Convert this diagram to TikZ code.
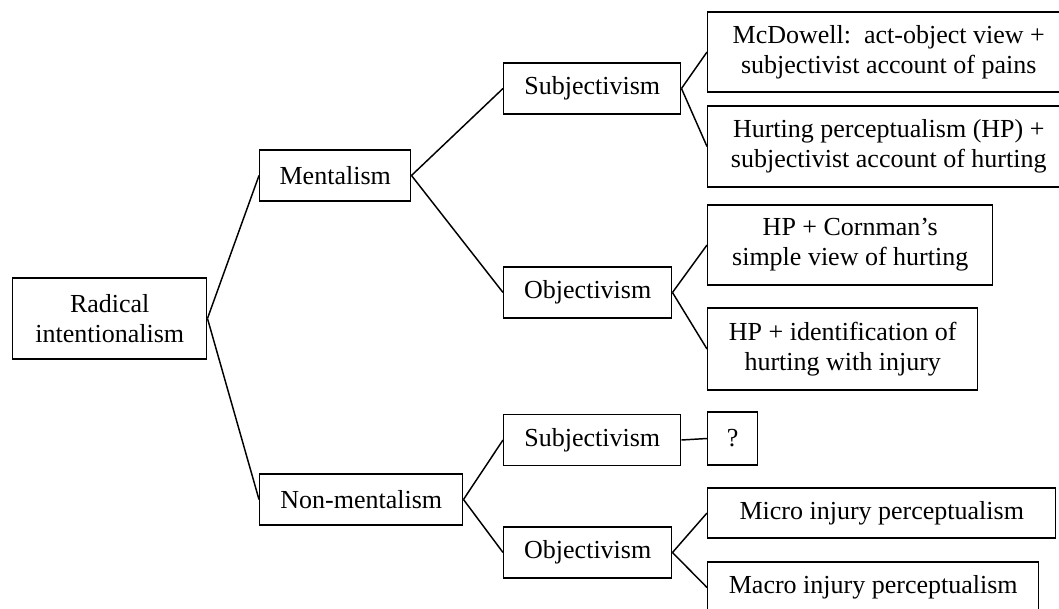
\documentclass[tikz,border=0pt]{standalone}
\usepackage{fontspec}
\setmainfont{Liberation Serif}

\tikzset{every picture/.style={line width=1.1pt}}
\tikzset{box/.style={draw, align=center, inner sep=0pt, font=\fontsize{19.5}{22.5}\selectfont}}

\begin{document}
\begin{tikzpicture}[x=0.75pt,y=0.75pt,yscale=-1,xscale=1]
\clip (0,0) rectangle (1059,609);

% Root
\node [box, minimum width=145.5pt, minimum height=60.75pt, anchor=west] (rad) at (12,318.5) {Radical\\intentionalism};

% Level 1
\node [box, minimum width=113.25pt, minimum height=38.25pt, anchor=west] (ment) at (259,175.5) {Mentalism};
\node [box, minimum width=152.25pt, minimum height=38.25pt, anchor=west] (nonment) at (259,499.5) {Non-mentalism};

% Level 2
\node [box, minimum width=132.75pt, minimum height=38.25pt, anchor=west] (subjA) at (503,88.5) {Subjectivism};
\node [box, minimum width=126pt, minimum height=38.25pt, anchor=west] (objA) at (503,292.5) {Objectivism};
\node [box, minimum width=132.75pt, minimum height=38.25pt, anchor=west] (subjB) at (503,440) {Subjectivism};
\node [box, minimum width=126pt, minimum height=38.25pt, anchor=west] (objB) at (503,552.5) {Objectivism};

% Leaves
\node [box, minimum width=271.5pt, minimum height=60pt, anchor=west] (mcd) at (707,52) {McDowell:\enspace act-object view +\\subjectivist account of pains};
\node [box, minimum width=271.5pt, minimum height=60.75pt, anchor=west] (hurt) at (707,146.5) {Hurting perceptualism (HP) +\\subjectivist account of hurting};
\node [box, minimum width=213.75pt, minimum height=60pt, anchor=west] (corn) at (707,245) {HP + Cornman’s\\simple view of hurting};
\node [box, minimum width=202.5pt, minimum height=61.5pt, anchor=west] (ident) at (707,349) {HP + identification of\\hurting with injury};
\node [box, minimum width=37.5pt, minimum height=39.75pt, anchor=west] (unk) at (707,438.5) {?};
\node [box, minimum width=261pt, minimum height=37.5pt, anchor=west] (micro) at (707,513) {Micro injury perceptualism};
\node [box, minimum width=248.25pt, minimum height=38.25pt, anchor=west] (macro) at (707,587.5) {Macro injury perceptualism};

% Connectors
\draw (rad.east) -- (ment.west);
\draw (rad.east) -- (nonment.west);
\draw (ment.east) -- (subjA.west);
\draw (ment.east) -- (objA.west);
\draw (nonment.east) -- (subjB.west);
\draw (nonment.east) -- (objB.west);
\draw (subjA.east) -- (mcd.west);
\draw (subjA.east) -- (hurt.west);
\draw (objA.east) -- (corn.west);
\draw (objA.east) -- (ident.west);
\draw (subjB.east) -- (unk.west);
\draw (objB.east) -- (micro.west);
\draw (objB.east) -- (macro.west);

\end{tikzpicture}
\end{document}
